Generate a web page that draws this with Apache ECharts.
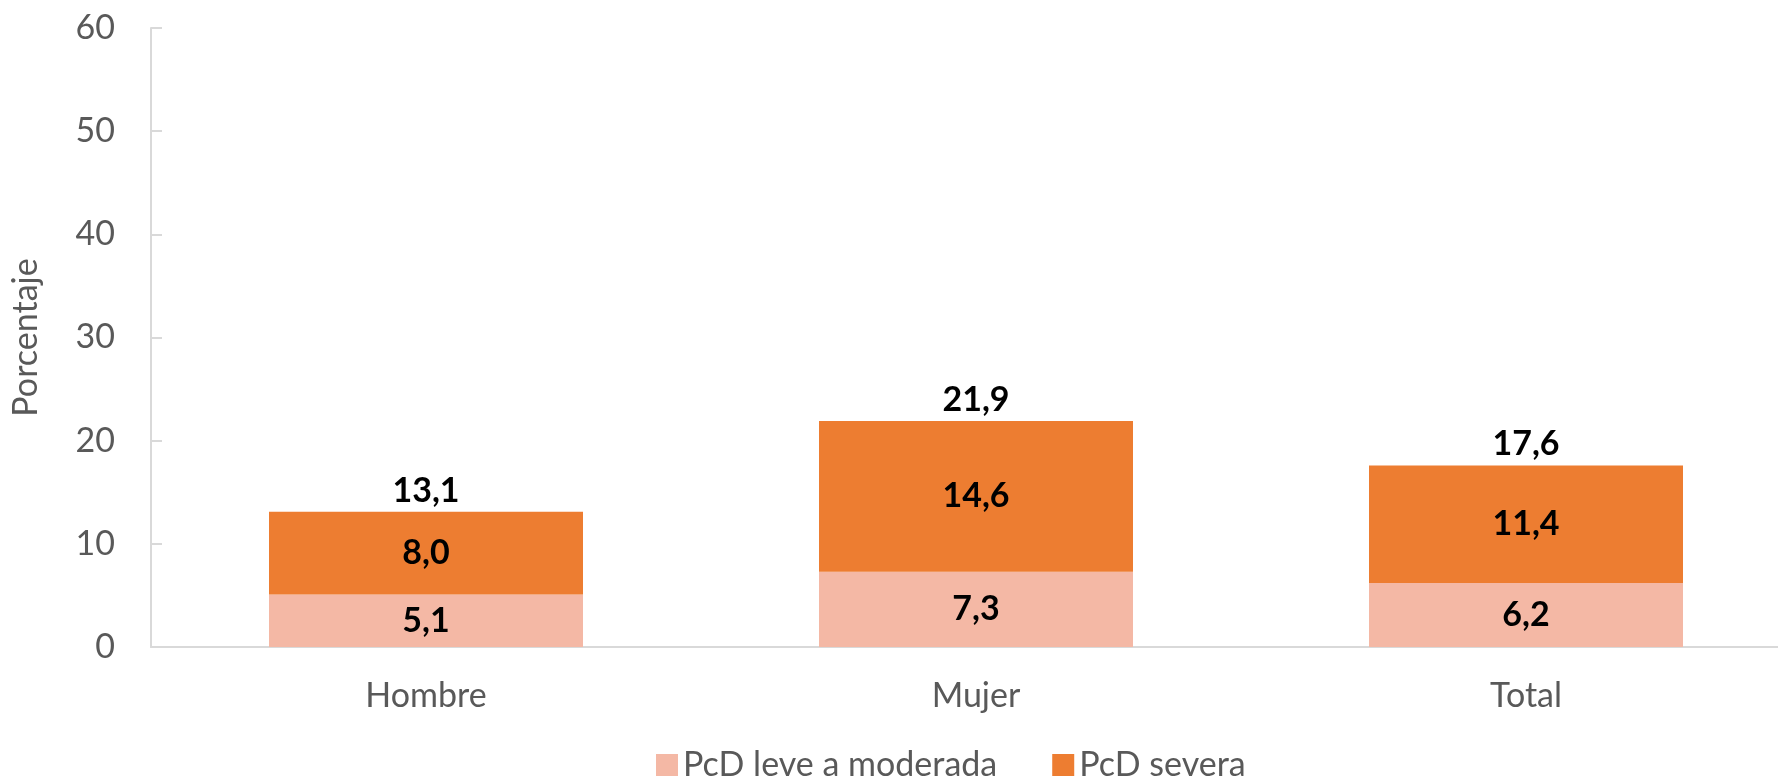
<!DOCTYPE html>
<html>
<head>
<meta charset="utf-8">
<script src="https://cdn.jsdelivr.net/npm/echarts@6/dist/echarts.min.js"></script>
<style>
  html, body { margin: 0; padding: 0; background: #fff; overflow: hidden; }
  #chart { width: 1801px; height: 778px; }
</style>
</head>
<body>
<div id="chart"></div>
<script>
var categories = ['Hombre', 'Mujer', 'Total'];
var leve = [5.1, 7.3, 6.2];
var severa = [8.0, 14.6, 11.4];
var totales = [13.1, 21.9, 17.6];
var yTicks = [0, 10, 20, 30, 40, 50, 60];

var fontFam = 'Lato, "Open Sans", sans-serif';
function coma(v) { return Number(v).toFixed(1).replace('.', ','); }

var myChart = echarts.init(document.getElementById('chart'));
myChart.setOption({
  animation: false,
  textStyle: { fontFamily: fontFam },
  grid: { left: 151, top: 28, right: 0, height: 619, containLabel: false },
  legend: {
    data: ['PcD leve a moderada', 'PcD severa'],
    left: 651,
    top: 743,
    itemWidth: 22,
    itemHeight: 22,
    itemGap: 55,
    icon: 'rect',
    textStyle: { fontSize: 34, color: '#595959', fontFamily: fontFam }
  },
  xAxis: {
    type: 'category',
    data: categories,
    axisLine: { lineStyle: { color: '#D9D9D9', width: 2 } },
    axisTick: { show: false },
    axisLabel: { fontSize: 34, color: '#595959', margin: 32 }
  },
  yAxis: {
    type: 'value',
    min: yTicks[0],
    max: yTicks[yTicks.length - 1],
    interval: 10,
    name: 'Porcentaje',
    nameLocation: 'middle',
    nameRotate: 90,
    nameGap: 108,
    nameTextStyle: { fontSize: 34, color: '#595959' },
    axisLine: { show: true, lineStyle: { color: '#D9D9D9', width: 2 } },
    axisTick: { show: true, inside: true, length: 11, lineStyle: { color: '#D9D9D9', width: 2 } },
    splitLine: { show: false },
    axisLabel: { fontSize: 34, color: '#595959', margin: 36 }
  },
  series: [
    {
      name: 'PcD leve a moderada',
      type: 'bar',
      stack: 'pcd',
      barWidth: 314,
      data: leve,
      itemStyle: { color: '#F4B8A5' },
      label: { show: true, position: 'inside', formatter: function (p) { return coma(p.value); },
               fontSize: 34, fontWeight: 'bold', color: '#000' }
    },
    {
      name: 'PcD severa',
      type: 'bar',
      stack: 'pcd',
      barWidth: 314,
      data: severa,
      itemStyle: { color: '#ED7D31' },
      label: { show: true, position: 'inside', formatter: function (p) { return coma(p.value); },
               fontSize: 34, fontWeight: 'bold', color: '#000' }
    },
    {
      name: 'Total',
      type: 'bar',
      barWidth: 314,
      barGap: '-100%',
      z: 1,
      data: totales,
      itemStyle: { color: 'rgba(0,0,0,0)' },
      label: { show: true, position: 'top', distance: 4, formatter: function (p) { return coma(p.value); },
               fontSize: 34, fontWeight: 'bold', color: '#000' }
    }
  ]
});
</script>
</body>
</html>
